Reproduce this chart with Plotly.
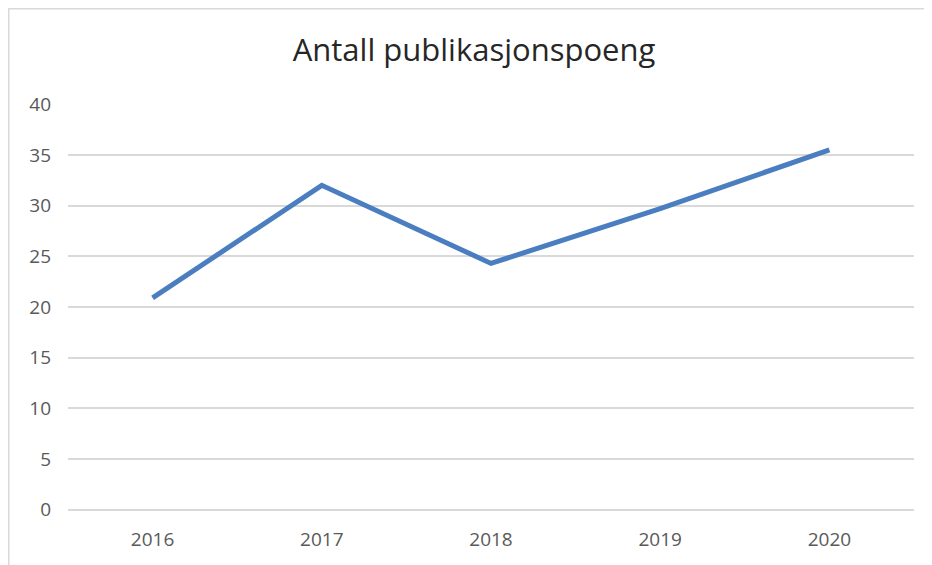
import plotly.graph_objects as go

years = ["2016", "2017", "2018", "2019", "2020"]
points = [20.9, 32.0, 24.3, 29.7, 35.5]
y_ticks = [0, 5, 10, 15, 20, 25, 30, 35, 40]

grid = "#d9d9d9"
label_font = dict(family="Open Sans", size=19, color="#595959")

fig = go.Figure()

fig.add_trace(go.Scatter(
    x=years,
    y=points,
    mode="lines",
    line=dict(color="#4a7ec0", width=5),
    hoverinfo="x+y",
))

# plot area is 846 x 406 px (page body adds an 8px offset)
pw, ph = 846, 406
fig.update_layout(
    width=932,
    height=565,
    margin=dict(l=60, r=26, t=96, b=63),
    paper_bgcolor="white",
    plot_bgcolor="white",
    showlegend=False,
    title=dict(
        text="Antall publikasjonspoeng",
        x=0.5,
        xanchor="center",
        y=0.925,
        yanchor="middle",
        font=dict(family="Open Sans", size=31, color="#262626"),
    ),
    xaxis=dict(
        type="category",
        range=[-0.5, 4.5],
        showgrid=False,
        showline=False,
        zeroline=False,
        ticks="",
        tickfont=label_font,
        ticklabelstandoff=16,
    ),
    yaxis=dict(
        range=[-0.02, 40.02],
        tickvals=y_ticks,
        showgrid=True,
        gridcolor=grid,
        gridwidth=1.5,
        zeroline=True,
        zerolinecolor=grid,
        zerolinewidth=1.5,
        showline=False,
        ticks="",
        tickfont=label_font,
        ticklabelstandoff=16,
    ),
    shapes=[
        dict(
            type="rect",
            xref="paper", yref="paper",
            x0=(0.5 - 60) / pw, x1=1.2,
            y0=-0.3, y1=(502 - 0.5) / ph,
            line=dict(color=grid, width=2),
            fillcolor="rgba(0,0,0,0)",
            layer="below",
        )
    ],
)

fig.write_html("out.html")
